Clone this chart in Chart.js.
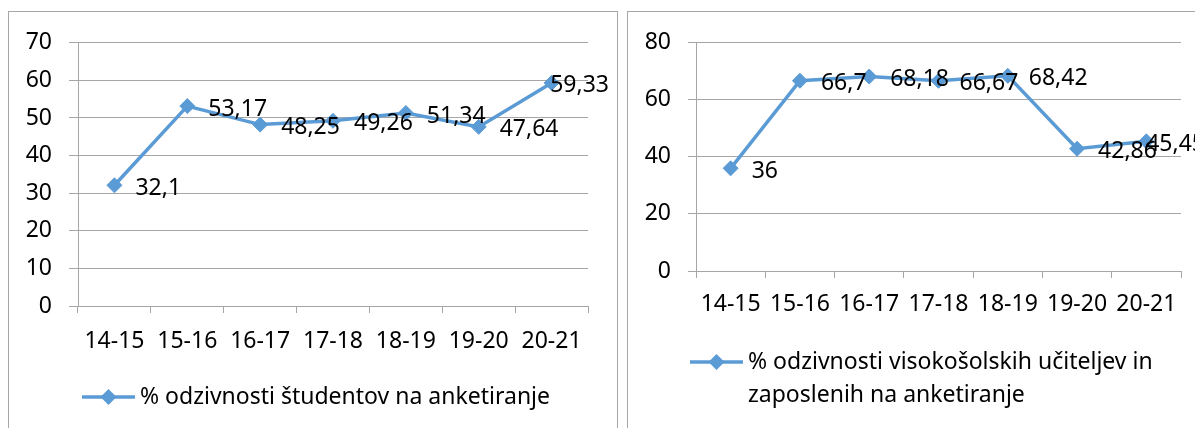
<!DOCTYPE html>
<html>
<head>
<meta charset="utf-8">
<script src="https://cdn.jsdelivr.net/npm/chart.js@4/dist/chart.umd.min.js"></script>
<style>
  body { margin: 0; background: #fff; width: 1195px; height: 428px; overflow: hidden; position: relative; }
  .okvir { position: absolute; top: 11px; height: 440px; border: 1px solid #a6a6a6; background: #fff; }
  #okvir1 { left: 8px; width: 608px; }
  #okvir2 { left: 627px; width: 600px; }
  .okvir canvas { position: absolute; left: 0; top: 0; }
</style>
</head>
<body>
<div class="okvir" id="okvir1"><canvas id="graf1" width="608" height="416"></canvas></div>
<div class="okvir" id="okvir2"><canvas id="graf2" width="567" height="416"></canvas></div>
<script>
'use strict';

// podatki
var leta = ['14-15', '15-16', '16-17', '17-18', '18-19', '19-20', '20-21'];
var studenti = [32.1, 53.17, 48.25, 49.26, 51.34, 47.64, 59.33];
var ucitelji = [36, 66.7, 68.18, 66.67, 68.42, 42.86, 45.45];
var legenda1 = ['% odzivnosti študentov na anketiranje'];
var legenda2 = ['% odzivnosti visokošolskih učiteljev in', 'zaposlenih na anketiranje'];
var maks1 = 70, korak1 = 10;
var maks2 = 80, korak2 = 20;

var MODRA = '#5b9bd5';
var SIVA = '#a6a6a6';
var PISAVA = { family: "'Noto Sans', sans-serif", size: 23 };
var PISAVA_CSS = '23px "Noto Sans", sans-serif';

//oznake vrednosti desno od tock (ce ne gre v okvir, jih zamakne levo)
var oznakePlugin = {
  id: 'oznake',
  afterDatasetsDraw: function (chart, args, opts) {
    var ctx = chart.ctx;
    var meta = chart.getDatasetMeta(0);
    var vrednosti = chart.data.datasets[0].data;
    ctx.save();
    ctx.font = PISAVA_CSS;
    ctx.fillStyle = '#000';
    ctx.textAlign = 'left';
    ctx.textBaseline = 'middle';
    for (var i = 0; i < meta.data.length; i++) {
      var t = meta.data[i];
      var besedilo = String(vrednosti[i]).replace('.', ',');
      var x = t.x + 21;
      var w = ctx.measureText(besedilo).width;
      if (x + w > opts.meja) {
        x = opts.meja - w;
      }
      ctx.fillText(besedilo, x, t.y + 3);
    }
    ctx.restore();
  }
};

//legenda: crta z rombom in besedilo (lahko v vec vrsticah)
var legendaPlugin = {
  id: 'legenda',
  afterDraw: function (chart, args, opts) {
    var ctx = chart.ctx;
    var x = chart.chartArea.left + opts.odmikX;
    var y = chart.chartArea.bottom + 91;
    ctx.save();
    ctx.strokeStyle = MODRA;
    ctx.lineWidth = 3.5;
    ctx.beginPath();
    ctx.moveTo(x, y);
    ctx.lineTo(x + 53, y);
    ctx.stroke();
    var cx = x + 26.5, r = 8;
    ctx.fillStyle = MODRA;
    ctx.beginPath();
    ctx.moveTo(cx - r, y);
    ctx.lineTo(cx, y - r);
    ctx.lineTo(cx + r, y);
    ctx.lineTo(cx, y + r);
    ctx.closePath();
    ctx.fill();
    ctx.font = PISAVA_CSS;
    ctx.fillStyle = '#000';
    ctx.textAlign = 'left';
    ctx.textBaseline = 'middle';
    for (var i = 0; i < opts.vrstice.length; i++) {
      ctx.fillText(opts.vrstice[i], x + 58, y + i * 33);
    }
    ctx.restore();
  }
};

function narediGraf(id, podatki, maks, korak, vrstice, nastavitve) {
  var ctx = document.getElementById(id).getContext('2d');
  return new Chart(ctx, {
    type: 'line',
    data: {
      labels: leta,
      datasets: [{
        label: vrstice.join(' '),
        data: podatki,
        borderColor: MODRA,
        backgroundColor: MODRA,
        borderWidth: 3.5,
        tension: 0,
        pointStyle: 'rectRot',
        pointRadius: 7.5,
        pointBorderWidth: 1,
        pointBackgroundColor: MODRA,
        pointBorderColor: MODRA
      }]
    },
    options: {
      responsive: false,
      animation: false,
      layout: { padding: { left: 0, top: 29, right: nastavitve.desno, bottom: nastavitve.spodaj } },
      plugins: {
        legend: { display: false },
        tooltip: { enabled: false },
        legenda: { odmikX: nastavitve.legendaX, vrstice: vrstice },
        oznake: { meja: nastavitve.meja }
      },
      scales: {
        x: {
          offset: true,
          grid: { offset: true, drawOnChartArea: false, color: SIVA, tickLength: 7 },
          border: { color: SIVA },
          ticks: { font: PISAVA, color: '#000', maxRotation: 0, autoSkip: false, padding: nastavitve.xPad },
          afterFit: function (s) { s.height = 60; }
        },
        y: {
          min: 0,
          max: maks,
          ticks: { stepSize: korak, font: PISAVA, color: '#000', padding: 17 },
          grid: { color: SIVA, tickLength: nastavitve.yTick },
          border: { color: SIVA },
          afterFit: function (s) { s.width = nastavitve.yWidth; }
        }
      }
    },
    plugins: [oznakePlugin, legendaPlugin]
  });
}

narediGraf('graf1', studenti, maks1, korak1, legenda1,
  { desno: 29, spodaj: 62, xPad: 15, yTick: 9, yWidth: 69, legendaX: 4, meja: 600 });
narediGraf('graf2', ucitelji, maks2, korak2, legenda2,
  { desno: 14, spodaj: 97, xPad: 13, yTick: 8, yWidth: 68, legendaX: -6, meja: 577 });
</script>
</body>
</html>
